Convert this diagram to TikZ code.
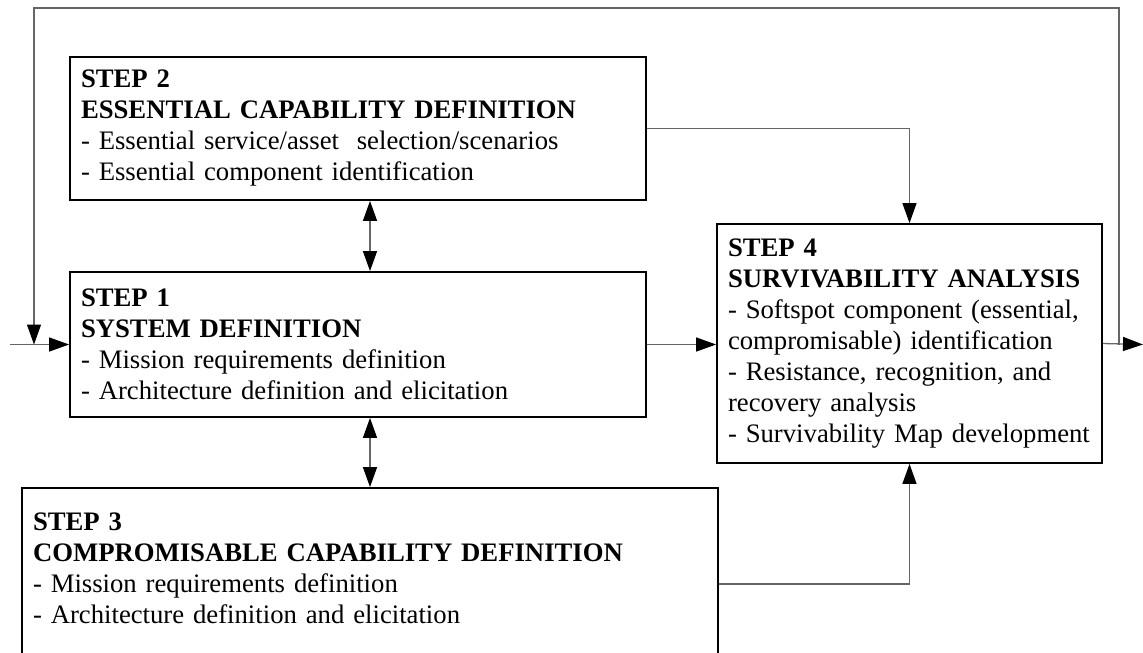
\documentclass[tikz,border=0pt]{standalone}
\usepackage{fontspec}
\setmainfont{Liberation Serif}
\usetikzlibrary{arrows.meta,calc}
\tikzset{
  stepbox/.style={draw=black, line width=1.8pt, rectangle, inner xsep=11pt, inner ysep=0pt,
    align=left, font=\fontsize{26.7pt}{31pt}\selectfont},
  conn/.style={draw=black!60, line width=1.3pt},
  tip/.style={-{Triangle[length=20pt,width=14pt,color=black]}},
  dtip/.style={{Triangle[length=20pt,width=14pt,color=black]}-{Triangle[length=20pt,width=14pt,color=black]}}
}
\begin{document}
\begin{tikzpicture}[x=1pt,y=-1pt]
\useasboundingbox (0,0) rectangle (1143,653);
\clip (0,0) rectangle (1143,653);
\node[stepbox, minimum width=576pt, minimum height=143pt, text width=554pt] (s2) at (358,128.5)
  {\textbf{STEP 2}\\ \textbf{ESSENTIAL CAPABILITY DEFINITION}\\ - Essential service/asset\ \ selection/scenarios\\ - Essential component identification};
\node[stepbox, minimum width=576pt, minimum height=145pt, text width=554pt] (s1) at (358,344.5)
  {\textbf{STEP 1}\\ \textbf{SYSTEM DEFINITION}\\ - Mission requirements definition\\ - Architecture definition and elicitation};
\node[stepbox, minimum width=696pt, minimum height=192pt, text width=674pt] (s3) at (370,584)
  {\textbf{STEP 3}\\ \textbf{COMPROMISABLE CAPABILITY DEFINITION}\\ - Mission requirements definition\\ - Architecture definition and elicitation\\ \mbox{}};
\node[stepbox, minimum width=385pt, minimum height=239pt, text width=363pt] (s4) at (909.5,343.5)
  {\textbf{STEP 4}\\ \textbf{SURVIVABILITY ANALYSIS}\\ - Softspot component (essential,\\ compromisable) identification\\ - Resistance, recognition, and\\ recovery analysis\\ - Survivability Map development};
\coordinate (in) at (10,344.5);
\coordinate (out) at (1143,344.5);
\coordinate (tl) at (34,8);
\coordinate (tr) at (1119,8);
\draw[conn, tip] (in) -- (s1.west);
\draw[conn, tip] (tr |- out) -- (tr) -- (tl) -- (tl |- s1.west);
\draw[conn, tip] (s4.east) -- (out);
\draw[conn, tip] (s2.east) -| (s4.north);
\draw[conn, tip] (s1.east) -- (s4.west |- s1.east);
\draw[conn, tip] (s3.east) -| (s4.south);
\draw[conn, dtip] (s3.north |- s2.south) -- (s3.north |- s1.north);
\draw[conn, dtip] (s3.north |- s1.south) -- (s3.north);
\end{tikzpicture}
\end{document}
